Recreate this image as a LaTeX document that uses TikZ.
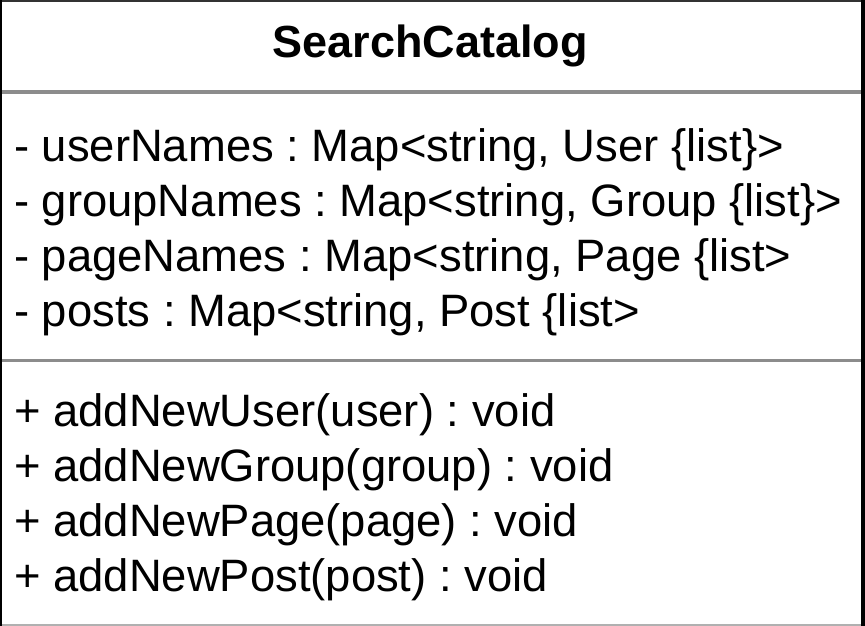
\documentclass[tikz,border=0pt]{standalone}
\usepackage{fontspec}
\setmainfont{Liberation Sans}
\frenchspacing
\definecolor{sepgray}{RGB}{140,140,140}
\definecolor{edgegray}{RGB}{176,176,176}
\begin{document}
\begin{tikzpicture}[x=1pt,y=-1pt,
  member/.style={anchor=base west,inner sep=0pt,font=\fontsize{45.4}{52}\selectfont},
  title/.style={anchor=base,inner sep=0pt,font=\fontsize{45}{52}\selectfont\bfseries}]
\useasboundingbox (0,0) rectangle (865,626);
\fill[white] (0,0) rectangle (865,626);
% class frame
\draw[black!80,line width=2pt] (0,1) -- (865,1);
\draw[edgegray,line width=2pt] (0,625) -- (865,625);
\draw[black,line width=2pt] (1,0) -- (1,626);
\draw[black,line width=4pt] (863,0) -- (863,626);
% compartment separators
\draw[sepgray,line width=3pt] (2,92) -- (861,92);
\draw[sepgray,line width=3pt] (2,360) -- (861,360);
% class name
\node[title] (name) at (430,58) {SearchCatalog};
% attributes
\node[member] (a1) at (14,161) {- userNames : Map<string, User \{list\}>};
\node[member] (a2) at (14,216) {- groupNames : Map<string, Group \{list\}>};
\node[member] (a3) at (14,271) {- pageNames : Map<string, Page \{list>};
\node[member] (a4) at (14,326) {- posts : Map<string, Post \{list>};
% operations
\node[member] (o1) at (14,426) {+ addNewUser(user) : void};
\node[member] (o2) at (14,481) {+ addNewGroup(group) : void};
\node[member] (o3) at (14,536) {+ addNewPage(page) : void};
\node[member] (o4) at (14,591) {+ addNewPost(post) : void};
\end{tikzpicture}
\end{document}
